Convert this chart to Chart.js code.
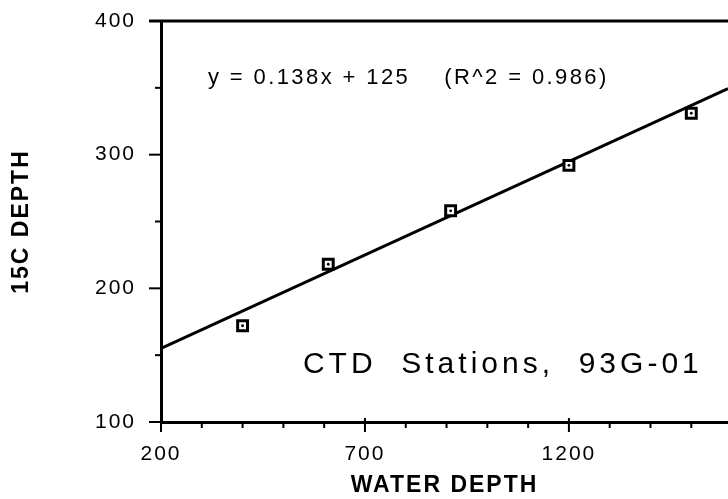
<!DOCTYPE html>
<html>
<head>
<meta charset="utf-8">
<script src="https://cdn.jsdelivr.net/npm/chart.js@4.4.1/dist/chart.umd.min.js"></script>
<style>
html,body{margin:0;padding:0;background:#fff;}
#wrap{width:728px;height:499px;}
</style>
</head>
<body>
<div id="wrap"><canvas id="Chart" width="728" height="499"></canvas></div>
<script>
// CTD stations, 93G-01
const stationDepth=[400,610,910,1200,1500];
const depth15C=[172,218,258,292,331];
// fitted line, read at both ends of the plot
const fitX=[200,1590];
const fitY=[155,349.5];
const xTicks=[200,300,400,500,600,700,800,900,1000,1100,1200,1300,1400,1500];
const yTicks=[100,150,200,250,300,350,400];
const xLabels=[200,700,1200];
const yLabels=[100,200,300,400];
const fitText="y = 0.138x + 125    (R^2 = 0.986)";
const boxText="CTD  Stations,  93G-01";

const FONT="'Liberation Sans', Arial, sans-serif";

function toPts(xs,ys){
    return xs.map((v,i)=>({x:v,y:ys[i]}));
}

// no extra room for first/last labels, the plot fills the frame
function noPad(s){
    s.paddingTop=0;
    s.paddingBottom=0;
    s.paddingLeft=0;
    s.paddingRight=0;
}

const axesExtra={
    id:"axesExtra",
    beforeDraw(chart){
        chart.ctx.letterSpacing="2px";
    },
    afterDraw(chart){
        const ctx=chart.ctx;
        const xs=chart.scales.x, ys=chart.scales.y, a=chart.chartArea;
        ctx.save();
        ctx.strokeStyle="#000";
        ctx.lineWidth=2;
        // x tick marks
        xs.ticks.forEach(t=>{
            let px=xs.getPixelForValue(t.value);
            let big=xLabels.includes(t.value);
            ctx.beginPath();
            ctx.moveTo(px,a.bottom-(big?4:0));
            ctx.lineTo(px,a.bottom+(big?10:6));
            ctx.stroke();
        });
        // y tick marks
        ys.ticks.forEach(t=>{
            let py=ys.getPixelForValue(t.value);
            let big=yLabels.includes(t.value);
            ctx.beginPath();
            ctx.moveTo(a.left,py);
            ctx.lineTo(a.left-(big?12:6),py);
            ctx.stroke();
        });
        // top line at 400
        ctx.lineWidth=3;
        let top=ys.getPixelForValue(400);
        ctx.beginPath();
        ctx.moveTo(a.left-12,top);
        ctx.lineTo(a.right,top);
        ctx.stroke();

        // texts
        ctx.fillStyle="#000";
        ctx.textAlign="left";
        ctx.textBaseline="alphabetic";
        ctx.font="22px "+FONT;
        ctx.letterSpacing="2.4px";
        ctx.fillText(fitText,xs.getPixelForValue(315),ys.getPixelForValue(353));
        ctx.font="30px "+FONT;
        ctx.letterSpacing="4px";
        ctx.fillText(boxText,xs.getPixelForValue(548),ys.getPixelForValue(136.4));
        ctx.restore();
    }
};

const ctx=document.getElementById("Chart");
const myChart=new Chart(ctx,{
    type:"scatter",
    data:{
        datasets:[
            {
                label:"fit",
                data:toPts(fitX,fitY),
                showLine:true,
                borderColor:"#000",
                borderWidth:3,
                pointRadius:0,
                order:3
            },
            {
                label:"stations",
                data:toPts(stationDepth,depth15C),
                pointStyle:"rect",
                pointRadius:7,
                borderWidth:3,
                borderColor:"#000",
                backgroundColor:"#fff",
                order:2
            },
            {
                label:"dots",
                data:toPts(stationDepth,depth15C),
                pointStyle:"circle",
                pointRadius:1.4,
                borderWidth:0,
                backgroundColor:"#000",
                order:1
            }
        ]
    },
    options:{
        responsive:false,
        animation:false,
        layout:{autoPadding:false,padding:{left:0,right:0,top:21,bottom:0}},
        plugins:{legend:{display:false},tooltip:{enabled:false}},
        scales:{
            x:{
                type:"linear",
                min:200,
                max:1590,
                grid:{display:false,drawTicks:false},
                border:{display:true,width:3,color:"#000"},
                ticks:{
                    autoSkip:false,
                    maxRotation:0,
                    padding:20,
                    color:"#000",
                    font:{family:FONT,size:21},
                    callback:v=>xLabels.includes(v)?String(v):""
                },
                afterBuildTicks:s=>{s.ticks=xTicks.map(v=>({value:v}));},
                title:{
                    display:true,
                    text:"WATER DEPTH",
                    color:"#000",
                    font:{family:FONT,size:23,weight:"bold"},
                    padding:{top:0,bottom:0}
                },
                afterFit:s=>{s.height=77;noPad(s);}
            },
            y:{
                type:"linear",
                min:100,
                max:400,
                grid:{display:false,drawTicks:false},
                border:{display:true,width:3,color:"#000"},
                ticks:{
                    autoSkip:false,
                    padding:25,
                    color:"#000",
                    font:{family:FONT,size:21},
                    callback:v=>yLabels.includes(v)?String(v):""
                },
                afterBuildTicks:s=>{s.ticks=yTicks.map(v=>({value:v}));},
                title:{
                    display:true,
                    text:"15C DEPTH",
                    color:"#000",
                    font:{family:FONT,size:23,weight:"bold"},
                    padding:{top:8,bottom:0}
                },
                afterFit:s=>{s.width=161;noPad(s);}
            }
        }
    },
    plugins:[axesExtra]
});
</script>
</body>
</html>
